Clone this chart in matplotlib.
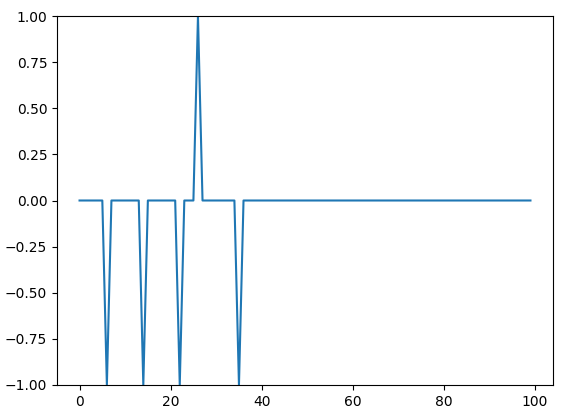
import matplotlib
matplotlib.use("Agg")
import matplotlib.pyplot as plt
import numpy as np

x = list(range(100))
neg_idx = [6, 14, 22, 35]
pos_idx = [26]
y = [0.0] * 100
for i in neg_idx:
    y[i] = -1.0
for i in pos_idx:
    y[i] = 1.0

fig = plt.figure(figsize=(5.63, 4.17), dpi=100)
W, H = 563, 417
ax = fig.add_axes([57 / W, (H - 385) / H, 496 / W, 369 / H])
ax.plot(x, y, color="#1f77b4", linewidth=1.5)
ax.set_ylim(-1, 1)
ax.set_yticks([-1.0, -0.75, -0.5, -0.25, 0.0, 0.25, 0.5, 0.75, 1.0])
fig.savefig("out.png", dpi=100)
